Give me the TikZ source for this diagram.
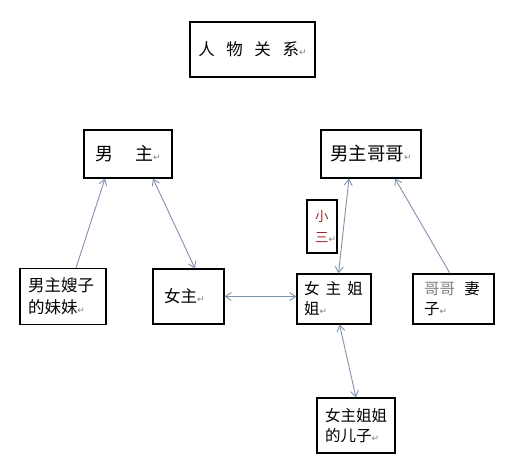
\documentclass[tikz,border=0pt]{standalone}
\usepackage{fontspec}
\newfontfamily\cjk{Noto Sans CJK SC}
\newfontfamily\symb{DejaVu Sans}
\usetikzlibrary{arrows.meta}
\definecolor{linkc}{HTML}{7F93AF}
\definecolor{redtxt}{HTML}{A0282D}
\newcommand{\retm}{{\color{gray}\symb\fontsize{9}{9}\selectfont ↵}}
\begin{document}
\begin{tikzpicture}[x=1pt,y=-1pt,>={Straight Barb[length=6pt,width=8pt]},
  box/.style={draw,line width=1.1pt,align=left,inner ysep=0pt,font=\cjk\fontsize{15.5}{20}\selectfont},
  link/.style={linkc,line width=0.9pt}]
\useasboundingbox (0,0) rectangle (515,476);
\node[box,align=center,minimum width=125pt,minimum height=55pt,font=\cjk\fontsize{16.5}{16}\selectfont] (title) at (252.5,49.5) {人\hspace{0.7em}物\hspace{0.7em}关\hspace{0.7em}系\retm};
\node[box,align=center,minimum width=88pt,minimum height=48pt,font=\cjk\fontsize{18}{18}\selectfont] (man) at (128,154) {男\hspace{1.2em}主\retm};
\node[box,align=center,minimum width=100pt,minimum height=48pt,font=\cjk\fontsize{18.5}{18}\selectfont] (bro) at (371,154) {男主哥哥\retm};
\node[box,inner xsep=8pt,text width=14pt,minimum height=53pt,text=redtxt,font=\cjk\fontsize{13.5}{21}\selectfont] (mistress) at (322,226.5) {小\\三\retm};
\node[box,inner xsep=8pt,text width=70pt,minimum height=56pt,font=\cjk\fontsize{16.5}{22}\selectfont] (sil) at (63,296.5) {男主嫂子\\的妹妹\retm};
\node[box,inner xsep=11pt,text width=49pt,minimum height=55pt,font=\cjk\fontsize{16.5}{20}\selectfont] (heroine) at (188.5,296.5) {女主\retm};
\node[box,inner xsep=7pt,text width=60pt,minimum height=50pt] (sister) at (334,299) {女\hspace{0.4em}主\hspace{0.4em}姐\\姐\retm};
\node[box,inner xsep=11pt,text width=59pt,minimum height=50pt] (wife) at (453.5,299) {{\color{gray}哥哥}\hspace{0.6em}妻\\子\retm};
\node[box,inner xsep=8pt,text width=62pt,minimum height=55pt] (son) at (356,425.5) {女主姐姐\\的儿子\retm};
\draw[->,link] ([xshift=13pt]sil.north) -- ([xshift=-23pt]man.south);
\draw[<->,link] ([xshift=25pt]man.south) -- ([xshift=6.5pt]heroine.north);
\draw[<->,link] (heroine.east) -- (heroine.east -| sister.west);
\draw[<->,link] ([xshift=4.5pt]sister.north) -- ([xshift=-22pt]bro.south);
\draw[->,link] ([xshift=-3.5pt]wife.north) -- ([xshift=24pt]bro.south);
\draw[<->,link] ([xshift=5.5pt]sister.south) -- (son.north);
\end{tikzpicture}
\end{document}
